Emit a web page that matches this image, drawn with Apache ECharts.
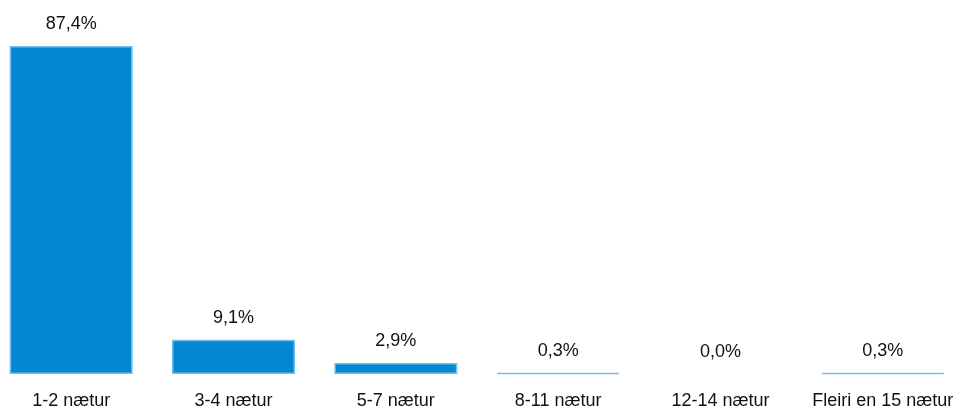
<!DOCTYPE html>
<html><head><meta charset="utf-8">
<script src="https://cdn.jsdelivr.net/npm/echarts@6/dist/echarts.min.js"></script>
<style>html,body{margin:0;padding:0;background:#fff;overflow:hidden;width:955px;height:410px}#c{width:974px;height:410px;margin-left:-10px}</style>
</head><body><div id="c"></div>
<script>
const categories = ['1-2 nætur','3-4 nætur','5-7 nætur','8-11 nætur','12-14 nætur','Fleiri en 15 nætur'];
const values = [87.4, 9.1, 2.9, 0.3, 0.0, 0.3];
const chart = echarts.init(document.getElementById('c'));
const font = "'Liberation Sans', Arial, sans-serif";
chart.setOption({
  animation: false,
  grid: {left: 0, right: 0, top: 46, bottom: 32},
  xAxis: {
    type: 'category', data: categories,
    axisLine: {show: false}, axisTick: {show: false},
    axisLabel: {color: '#111', fontFamily: font, fontSize: 18, margin: 18, interval: 0}
  },
  yAxis: {type: 'value', min: 0, max: 87.4, show: false, splitLine: {show: false}},
  series: [{
    type: 'bar', barWidth: 123,
    data: values.map(v => v === 0 ? {value: v, itemStyle: {borderWidth: 0}} : v),
    itemStyle: {color: '#0288d1', borderColor: '#74c0ec', borderWidth: 1.5},
    label: {
      show: true, position: 'top', distance: 13,
      color: '#111', fontFamily: font, fontSize: 18,
      formatter: p => p.value.toFixed(1).replace('.', ',') + '%'
    }
  }]
});
</script></body></html>
